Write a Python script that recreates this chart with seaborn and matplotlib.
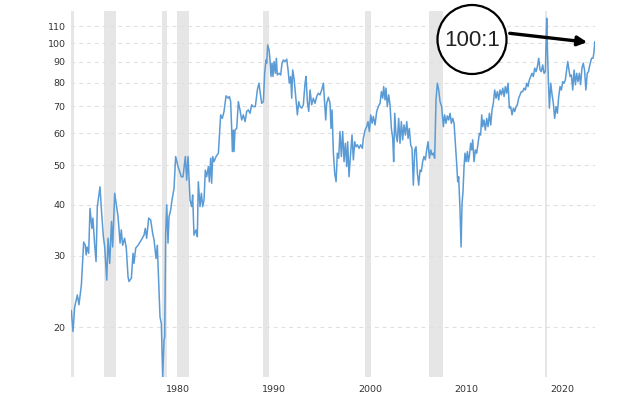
import numpy as np
import pandas as pd
import matplotlib
matplotlib.use("Agg")
import matplotlib.pyplot as plt
import matplotlib.transforms as mtransforms
from matplotlib.patches import Ellipse, FancyArrowPatch
from matplotlib.ticker import FixedLocator, FixedFormatter, NullLocator
import seaborn as sns

# ---- data (decimal year, gold/silver ratio) ----
years = [
    1970.55, 1970.73, 1970.9, 1971.18, 1971.35, 1971.6, 1971.84, 1972.01, 1972.1, 1972.2,
    1972.36, 1972.5, 1972.7, 1972.8, 1972.99, 1973.13, 1973.26, 1973.4, 1973.54, 1973.68,
    1973.89, 1974.03, 1974.24, 1974.38, 1974.55, 1974.74, 1974.86, 1975.07, 1975.17, 1975.42,
    1975.63, 1975.76, 1975.9, 1976.1, 1976.28, 1976.46, 1976.56, 1976.81, 1976.98, 1977.08,
    1977.26, 1977.5, 1977.85, 1978.125, 1978.26, 1978.4, 1978.61, 1978.82, 1979.03, 1979.17,
    1979.375, 1979.51, 1979.65, 1979.79, 1979.93, 1980.07, 1980.21, 1980.28, 1980.38, 1980.49,
    1980.625, 1980.73, 1980.9, 1981.04, 1981.25, 1981.42, 1981.67, 1982.01, 1982.19, 1982.43,
    1982.57, 1982.71,
    1982.92, 1983.09, 1983.19, 1983.33, 1983.54, 1983.68, 1983.78, 1983.96, 1984.1, 1984.24,
    1984.375, 1984.51, 1984.65, 1984.83, 1984.93, 1985.07, 1985.17, 1985.28, 1985.42, 1985.63,
    1985.87, 1986.11, 1986.28, 1986.46, 1986.67, 1986.875, 1987.01, 1987.15, 1987.26, 1987.33,
    1987.43, 1987.5, 1987.6, 1987.78, 1987.95, 1988.12, 1988.3, 1988.47, 1988.65, 1988.82,
    1988.99, 1989.17, 1989.34, 1989.51, 1989.72, 1989.93, 1990.1, 1990.21, 1990.38, 1990.56,
    1990.69, 1990.83, 1990.9, 1991.01, 1991.15, 1991.25, 1991.35, 1991.46, 1991.56, 1991.67,
    1991.81, 1991.91, 1992.01, 1992.19, 1992.36, 1992.5, 1992.64, 1992.81, 1992.99, 1993.13,
    1993.26, 1993.4, 1993.51, 1993.61, 1993.75, 1993.96, 1994.1, 1994.24, 1994.375, 1994.55,
    1994.72, 1994.9, 1995.0, 1995.14, 1995.28,
    1995.42, 1995.59, 1995.76, 1995.94, 1996.11, 1996.28, 1996.46, 1996.63, 1996.81, 1996.94,
    1997.05, 1997.15, 1997.33, 1997.5, 1997.6, 1997.71, 1997.85, 1997.99, 1998.13, 1998.26,
    1998.4, 1998.54, 1998.68, 1998.82, 1998.96, 1999.1, 1999.24, 1999.34, 1999.48, 1999.62,
    1999.79, 1999.93, 2000.07, 2000.21, 2000.35, 2000.52, 2000.69, 2000.87, 2000.97, 2001.15,
    2001.32, 2001.46, 2001.6, 2001.74, 2001.88, 2002.01, 2002.19, 2002.36, 2002.53, 2002.71,
    2002.85, 2002.99, 2003.09, 2003.23, 2003.33, 2003.47, 2003.61, 2003.75, 2003.89, 2004.03,
    2004.13, 2004.24, 2004.375, 2004.51, 2004.65, 2004.79, 2004.93, 2005.07, 2005.2, 2005.35,
    2005.49, 2005.63, 2005.76, 2005.9, 2006.04, 2006.18, 2006.32, 2006.46, 2006.6, 2006.74,
    2006.875, 2007.01, 2007.15, 2007.29, 2007.43, 2007.57, 2007.71, 2007.85, 2007.99, 2008.125,
    2008.26, 2008.4, 2008.54, 2008.68, 2008.82, 2008.96,
    2009.13, 2009.31, 2009.44, 2009.58, 2009.72, 2009.86, 2010.0, 2010.14, 2010.28, 2010.42,
    2010.56, 2010.69, 2010.8, 2010.9, 2011.04, 2011.15, 2011.25, 2011.35, 2011.46, 2011.56,
    2011.67, 2011.81, 2011.91, 2012.01, 2012.15, 2012.26, 2012.36, 2012.5, 2012.64, 2012.78,
    2012.92, 2013.06, 2013.19, 2013.3, 2013.4, 2013.54, 2013.68, 2013.82, 2013.96, 2014.1,
    2014.24, 2014.375, 2014.51, 2014.65, 2014.79, 2014.93, 2015.07, 2015.2, 2015.35, 2015.49,
    2015.63, 2015.76, 2015.9, 2016.04, 2016.18, 2016.32, 2016.46, 2016.6, 2016.74, 2016.875,
    2017.01, 2017.15, 2017.29, 2017.43, 2017.57, 2017.71, 2017.85, 2017.99, 2018.125, 2018.26,
    2018.4, 2018.54, 2018.68, 2018.82, 2018.96, 2019.1, 2019.24, 2019.375, 2019.51, 2019.65,
    2019.79, 2019.93, 2020.0, 2020.07, 2020.14, 2020.24, 2020.35, 2020.49, 2020.63, 2020.76,
    2020.9, 2021.04, 2021.18, 2021.32, 2021.46, 2021.6, 2021.74, 2021.875, 2022.01, 2022.15,
    2022.26, 2022.36, 2022.5, 2022.64, 2022.78, 2022.92, 2023.06, 2023.19, 2023.33, 2023.47,
    2023.6, 2023.74, 2023.875, 2024.01, 2024.15, 2024.29, 2024.42, 2024.56, 2024.74, 2024.9,
    2025.0, 2025.08,
]
ratio = [
    22.0, 19.5, 22.4, 24.0, 22.7, 25.4, 32.4, 31.8, 30.1, 31.5,
    30.4, 39.2, 35.0, 37.1, 31.8, 29.0, 39.6, 41.9, 44.3, 39.2,
    33.4, 31.5, 26.1, 33.1, 28.7, 36.4, 31.5, 42.7, 41.1, 37.4,
    32.2, 34.7, 31.8, 33.1, 31.3, 26.6, 25.9, 26.4, 30.4, 28.7,
    31.3, 31.8, 32.8, 33.7, 35.0, 33.1, 37.1, 36.7, 34.0, 32.8,
    29.5, 31.8, 26.1, 21.2, 20.4, 15.0, 18.6, 18.9, 34.0, 40.0,
    32.2, 37.4, 38.8, 41.1, 43.9, 52.6, 49.7, 46.9, 46.9, 52.6,
    46.0, 52.6,
    41.1, 39.6, 42.3, 33.7, 34.7, 33.4, 45.6, 39.6, 42.7, 39.6,
    41.1, 48.7, 46.9, 49.7, 45.6, 52.1, 45.2, 52.6, 51.1, 52.6,
    53.6, 66.6, 65.3, 67.9, 74.2, 73.2, 73.9, 71.8, 61.1, 54.1,
    61.1, 54.1, 61.1, 61.7, 71.8, 68.5, 64.7, 66.6, 64.1, 67.9,
    68.5, 67.2, 70.5, 69.8, 69.8, 76.7, 79.7, 76.0, 71.1, 71.8,
    84.3, 90.9, 89.3, 99.0, 96.3, 90.9, 82.8, 89.3, 82.8, 90.1,
    84.3, 91.8, 83.5, 84.3, 83.5, 89.3, 90.9, 90.1, 91.3, 85.9,
    79.7, 82.8, 73.2, 85.9, 82.0, 72.5, 66.6, 71.8, 69.8, 69.2,
    70.5, 79.7, 82.8, 71.8, 67.9,
    76.7, 70.5, 73.2, 71.1, 73.9, 75.3, 74.6, 76.7, 79.7, 71.1,
    64.7, 71.1, 73.6, 71.1, 61.7, 68.5, 53.6, 47.8, 45.6, 53.6,
    52.1, 60.6, 52.6, 60.6, 51.1, 56.7, 49.7, 57.2, 46.9, 52.6,
    59.4, 51.6, 57.2, 55.6, 56.2, 55.1, 56.2, 55.1, 58.3, 61.1,
    62.3, 64.1, 60.6, 66.6, 63.5, 66.0, 62.9, 67.9, 69.8, 71.1,
    76.0, 73.2, 78.2, 72.5, 77.5, 69.8, 74.6, 70.5, 61.7, 58.3,
    51.1, 67.2, 59.4, 57.2, 65.3, 56.7, 64.1, 57.8, 62.9, 59.4,
    64.1, 58.3, 61.7, 56.2, 55.1, 44.7, 54.6, 55.6, 47.8, 44.7,
    48.7, 48.3, 51.1, 52.6, 51.6, 54.6, 57.2, 52.1, 54.6, 53.1,
    53.6, 52.1, 72.5, 79.7, 76.7, 71.8,
    69.8, 62.3, 66.6, 63.5, 66.2, 64.7, 67.2, 63.5, 65.3, 63.5,
    56.7, 50.6, 45.6, 46.9, 38.8, 31.5, 40.3, 43.1, 49.7, 53.6,
    51.1, 54.1, 51.1, 52.6, 56.7, 54.6, 57.8, 51.1, 54.6, 53.6,
    56.7, 60.0, 59.4, 66.6, 62.3, 64.7, 61.1, 65.3, 62.3, 67.2,
    62.9, 68.5, 71.1, 76.7, 73.2, 76.0, 72.5, 76.7, 74.6, 77.5,
    73.9, 78.2, 75.3, 79.7, 69.2, 69.8, 66.6, 69.2, 67.9, 69.8,
    70.5, 73.2, 74.6, 76.0, 76.0, 77.5, 76.7, 79.7, 78.2, 81.2,
    82.8, 84.3, 82.8, 86.8, 85.1, 87.6, 91.8, 85.9, 85.1, 88.4,
    84.3, 85.1, 100.0, 115.2, 98.1, 81.2, 69.2, 79.7, 74.6, 71.1,
    65.3, 69.8, 67.2, 73.9, 78.2, 76.7, 80.4, 79.7, 81.2, 85.9,
    90.1, 86.8, 82.8, 83.5, 76.7, 85.9, 79.0, 84.3, 80.4, 84.3,
    79.0, 86.8, 89.3, 85.9, 76.7, 84.3, 85.1, 88.4, 91.8, 91.8,
    95.4, 100.9,
]

# shaded recession periods (decimal years)
rec_start = [1969.90, 1973.93, 1980.03, 1981.53, 1990.49, 2001.15, 2007.85, 2019.90]
rec_end = [1970.87, 1975.24, 1980.52, 1982.81, 1991.15, 2001.78, 2009.30, 2020.05]

y_ticks = [20, 30, 40, 50, 60, 70, 80, 90, 100, 110]
x_ticks = [1980, 1990, 2000, 2010, 2020]
annotation_text = "100:1"

# ---- figure ----
sns.set_style("white")
plt.rcParams["font.family"] = ["DejaVu Sans"]

W, H = 630, 397
fig = plt.figure(figsize=(W / 100, H / 100), dpi=100)
fig.patch.set_facecolor("white")
ax_left, ax_right, ax_top, ax_bottom = 71, 595, 11, 376.7
ax = fig.add_axes([ax_left / W, (H - ax_bottom) / H,
                   (ax_right - ax_left) / W, (ax_bottom - ax_top) / H])

df = pd.DataFrame({"year": years, "ratio": ratio})

for s, e in zip(rec_start, rec_end):
    ax.axvspan(s, e, color="#e6e6e6", lw=0, zorder=0)

sns.lineplot(data=df, x="year", y="ratio", ax=ax, color="#5b9bd5",
             linewidth=1.1, estimator=None, sort=False, zorder=3)

ax.set_yscale("log")
ax.set_ylim(15.1, 120)
ax.set_xlim(1970.52, 2025.1)

ax.yaxis.set_major_locator(FixedLocator(y_ticks))
ax.yaxis.set_major_formatter(FixedFormatter([str(v) for v in y_ticks]))
ax.yaxis.set_minor_locator(NullLocator())
ax.set_xticks(x_ticks)
ax.set_xticklabels([str(v) for v in x_ticks])

ax.grid(axis="y", color="#e0e0e0", linestyle=(0, (3.5, 3.5)), linewidth=0.8, zorder=1)
ax.grid(axis="x", visible=False)
for sp in ax.spines.values():
    sp.set_visible(False)
ax.tick_params(axis="both", length=0, labelsize=6.8, labelcolor="#333333")
ax.tick_params(axis="y", pad=4)
ax.tick_params(axis="x", pad=6)
offset = mtransforms.ScaledTranslation(3 / 72, 0, fig.dpi_scale_trans)
for lbl in ax.get_xticklabels():
    lbl.set_ha("left")
    lbl.set_transform(lbl.get_transform() + offset)
ax.set_xlabel("")
ax.set_ylabel("")

# ---- "100:1" callout (figure-pixel geometry) ----
cx, cy, r = 472, 39.5, 34.5
circ = Ellipse((cx / W, 1 - cy / H), 2 * r / W, 2 * r / H, transform=fig.transFigure,
               facecolor="white", edgecolor="black", linewidth=1.6, zorder=10)
fig.add_artist(circ)
fig.text(cx / W, 1 - (cy + 1.5) / H, annotation_text, ha="center", va="center",
         fontsize=16, color="#222222", family=["Liberation Sans", "DejaVu Sans"], zorder=11)
arrow = FancyArrowPatch((507 / W, 1 - 33 / H), (590 / W, 1 - 42.5 / H),
                        transform=fig.transFigure, arrowstyle="-|>", mutation_scale=14,
                        color="black", linewidth=2.4, zorder=10)
fig.add_artist(arrow)

fig.savefig("out.png", dpi=100, facecolor="white")
